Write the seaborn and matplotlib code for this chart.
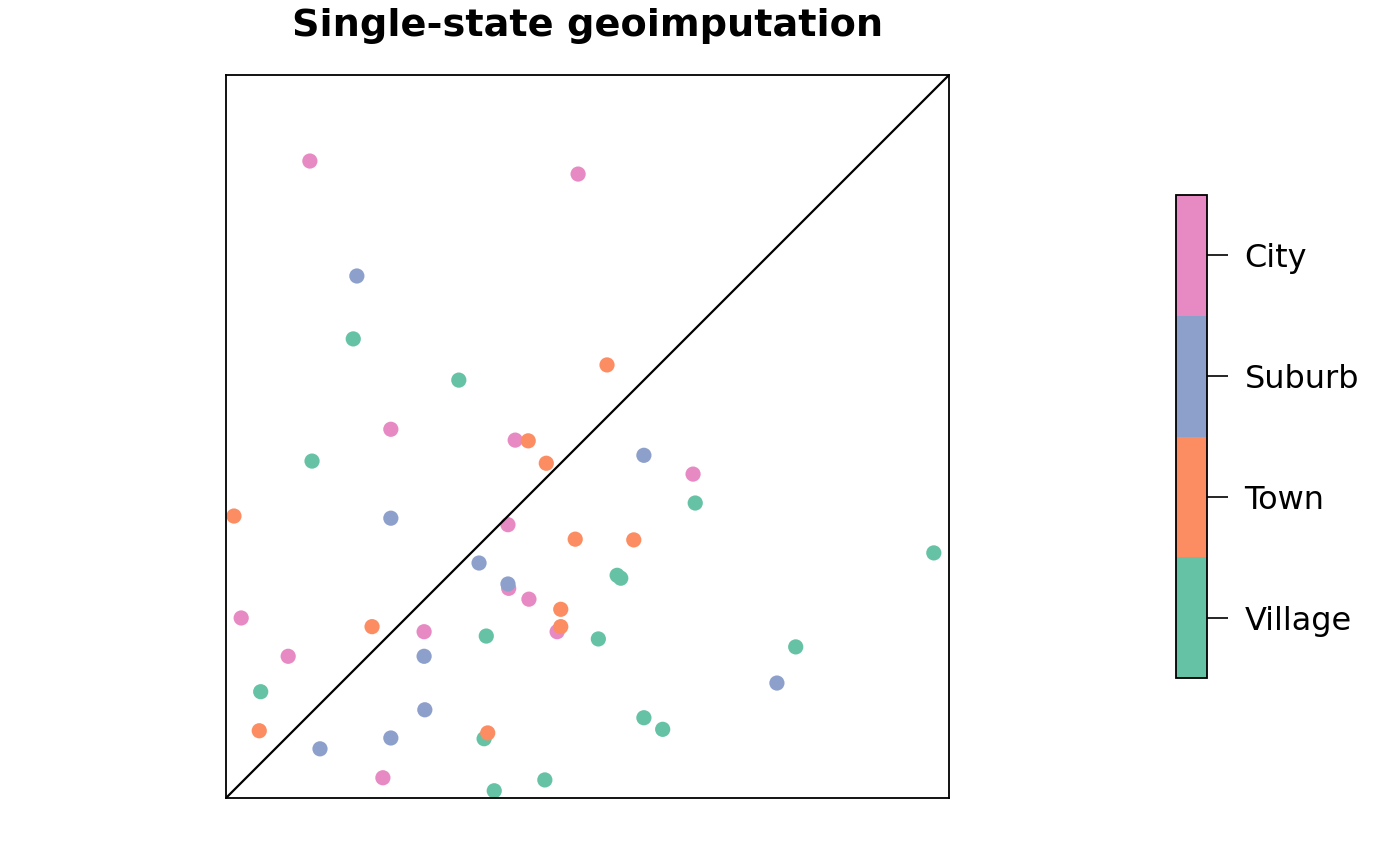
import pandas as pd
import matplotlib
matplotlib.use("Agg")
import matplotlib.pyplot as plt
import seaborn as sns
from matplotlib.colors import ListedColormap, BoundaryNorm
from matplotlib.cm import ScalarMappable

CATEGORIAS = ['Village', 'Town', 'Suburb', 'City']

city_x = [0.116, 0.487, 0.228, 0.400, 0.646, 0.390, 0.021, 0.086, 0.274, 0.391, 0.419, 0.458, 0.217]
city_y = [0.881, 0.863, 0.510, 0.495, 0.448, 0.378, 0.249, 0.196, 0.230, 0.290, 0.275, 0.230, 0.028]

village_x = [0.176, 0.322, 0.119, 0.649, 0.979, 0.541, 0.546, 0.360, 0.515, 0.788, 0.048, 0.578, 0.604, 0.357, 0.441, 0.371]
village_y = [0.635, 0.578, 0.466, 0.408, 0.339, 0.308, 0.304, 0.224, 0.220, 0.209, 0.147, 0.111, 0.095, 0.082, 0.025, 0.010]

suburb_x = [0.181, 0.578, 0.228, 0.350, 0.390, 0.274, 0.762, 0.275, 0.130, 0.228]
suburb_y = [0.722, 0.474, 0.387, 0.325, 0.296, 0.196, 0.159, 0.122, 0.068, 0.083]

town_x = [0.527, 0.418, 0.443, 0.011, 0.483, 0.564, 0.463, 0.463, 0.202, 0.046, 0.362]
town_y = [0.599, 0.494, 0.463, 0.390, 0.358, 0.357, 0.261, 0.237, 0.237, 0.093, 0.090]

partes = []
for nome, xs, ys in [('City', city_x, city_y), ('Village', village_x, village_y),
                     ('Suburb', suburb_x, suburb_y), ('Town', town_x, town_y)]:
    partes.append(pd.DataFrame({'x': xs, 'y': ys, 'tipo': nome}))
df = pd.concat(partes, ignore_index=True)

cores = sns.color_palette('Set2', 4)
paleta = dict(zip(CATEGORIAS, cores))

sns.set_style('white')
plt.rcParams['font.family'] = ['DejaVu Sans']
plt.rcParams['text.color'] = 'black'
plt.rcParams['ytick.color'] = 'black'

fig = plt.figure(figsize=(14, 8.66), dpi=100)
ax = fig.add_axes([226/1400, 1-798/866, 723/1400, 723/866])

sns.scatterplot(data=df, x='x', y='y', hue='tipo', palette=paleta, s=120,
                linewidth=0, legend=False, ax=ax)
ax.plot([0, 1], [0, 1], color='black', lw=1.6)
ax.set_xlim(0, 1)
ax.set_ylim(0, 1)
ax.set_xticks([])
ax.set_yticks([])
ax.set_xlabel('')
ax.set_ylabel('')
for sp in ax.spines.values():
    sp.set_color('black')
    sp.set_linewidth(1.3)
ax.set_title('Single-state geoimputation', fontsize=27.5, fontweight='bold',
             pad=28, color='black')

# barra de cores discreta
cax = fig.add_axes([1176/1400, 1-678/866, 31/1400, 483/866])
cmap = ListedColormap(cores)
norm = BoundaryNorm([0, 1, 2, 3, 4], cmap.N)
cb = fig.colorbar(ScalarMappable(norm=norm, cmap=cmap), cax=cax, ticks=[0.5, 1.5, 2.5, 3.5])
cb.set_ticklabels(CATEGORIAS)
cb.minorticks_off()
cax.yaxis.set_minor_locator(matplotlib.ticker.NullLocator())
cb.outline.set_edgecolor('black')
cb.outline.set_linewidth(1.3)
cax.tick_params(length=15, width=1.2, labelsize=23, pad=12, color='black', labelcolor='black')

fig.savefig('out.png', dpi=100)
plt.close()
